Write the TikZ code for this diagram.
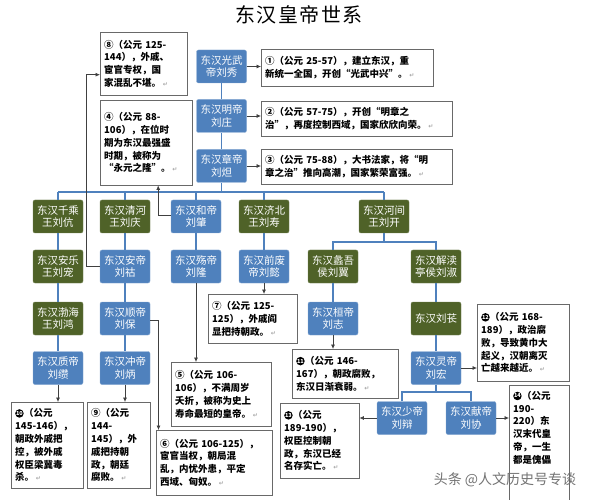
\documentclass[tikz,border=0pt]{standalone}
\usepackage{fontspec}
\setmainfont{Noto Sans CJK SC}
\newfontfamily\dejavu{DejaVu Sans}
\usetikzlibrary{positioning, arrows.meta}
\definecolor{empblue}{RGB}{79,129,189}
\definecolor{princegreen}{RGB}{79,98,40}
\definecolor{notegray}{RGB}{105,105,105}
\newcommand\pmark{\,{\dejavu\fontsize{6}{6}\selectfont\textcolor{black!35}{↵}}}
% black circled numbers 10--14, drawn as a disc with the number in white
\newcommand\negnum[1]{\tikz[baseline=-3.4pt, x=1pt, y=1pt]\node[circle, anchor=center, fill=black, draw=none,
    text=white, inner sep=0pt, minimum size=8.5pt, font=\fontsize{5.5}{6}\selectfont\bfseries] (c) at (0,0) {#1};\hspace{0.5pt}}

\tikzset{
  emp/.style={fill=empblue, draw=empblue!70!white, rounded corners=2pt, text=white,
              minimum width=50pt, minimum height=33pt, inner sep=1pt, align=center,
              font=\fontsize{10.5}{12.5}\selectfont},
  prince/.style={emp, fill=princegreen, draw=princegreen!80!white},
  note/.style={draw=notegray, fill=white, anchor=north west, align=left, inner sep=4pt,
               font=\bfseries\fontsize{9.5}{12.8}\selectfont},
  tree/.style={draw=empblue, line width=1.5pt},
  link/.style={draw=black!75, line width=0.7pt, -{Latex[length=4.5pt,width=4pt]}},
}

\begin{document}
\begin{tikzpicture}[x=1pt, y=-1pt]
    \clip (0,0) rectangle (595,500);

    % title
    \node[font=\fontsize{20}{24}\selectfont] (title) at (299,15) {东\hspace{1.5pt}汉\hspace{1.5pt}皇\hspace{1.5pt}帝\hspace{1.5pt}世\hspace{1.5pt}系};

    % emperors and princes
    \node[emp] (guangwu) at (221.5,66.5) {东汉光武\\帝刘秀};
    \node[emp] (ming) at (221.5,116) {东汉明帝\\刘庄};
    \node[emp] (zhang) at (221.5,166) {东汉章帝\\刘炟};

    \node[prince] (qiancheng) at (58,216.5) {东汉千乘\\王刘伉};
    \node[prince] (qinghe) at (125,216.5) {东汉清河\\王刘庆};
    \node[emp] (he) at (196,216.5) {东汉和帝\\刘肇};
    \node[prince] (jibei) at (264,216.5) {东汉济北\\王刘寿};
    \node[prince] (hejian) at (384,216.5) {东汉河间\\王刘开};

    \node[prince] (anle) at (58,266.5) {东汉安乐\\王刘宠};
    \node[emp] (an) at (125,266.5) {东汉安帝\\刘祜};
    \node[emp] (shang) at (196,266.5) {东汉殇帝\\刘隆};
    \node[emp] (qianfei) at (264,266.5) {东汉前废\\帝刘懿};
    \node[prince] (liyu) at (333,266.5) {东汉蠡吾\\侯刘翼};
    \node[prince] (jiedu) at (436,266.5) {东汉解渎\\亭侯刘淑};

    \node[prince] (bohai) at (58,318.5) {东汉渤海\\王刘鸿};
    \node[emp] (shun) at (125,318.5) {东汉顺帝\\刘保};
    \node[emp] (huan) at (333,318.5) {东汉桓帝\\刘志};
    \node[prince] (liuchang) at (436,318.5) {东汉刘苌};

    \node[emp] (zhi) at (58,368) {东汉质帝\\刘缵};
    \node[emp] (chong) at (125,368) {东汉冲帝\\刘炳};
    \node[emp] (ling) at (436,368) {东汉灵帝\\刘宏};

    \node[emp] (shao) at (402,418) {东汉少帝\\刘辩};
    \node[emp] (xian) at (471,418) {东汉献帝\\刘协};

    % notes
    \node[note, text width=79pt, minimum height=63pt] (n8) at (100,32) {⑧（公元 125-\\144），外戚、\\宦官专权，国\\家混乱不堪。\pmark};
    \node[note, text width=164pt, minimum height=37pt] (n1) at (261,49) {①（公元 25-57），建立东汉，重\\新统一全国，开创“光武中兴”。\pmark};
    \node[note, text width=183pt, minimum height=35pt] (n2) at (261,101) {②（公元 57-75），开创“明章之\\治”，再度控制西域，国家欣欣向荣。\pmark};
    \node[note, text width=183pt, minimum height=35pt] (n3) at (261,149) {③（公元 75-88），大书法家，将“明\\章之治”推向高潮，国家繁荣富强。\pmark};
    \node[note, text width=84pt, minimum height=85pt] (n4) at (100,100) {④（公元 88-\\106），在位时\\期为东汉最强盛\\时期，被称为\\“永元之隆”。\pmark};
    \node[note, text width=81pt, minimum height=49pt] (n7) at (208,294) {⑦（公元 125-\\125），外戚阎\\显把持朝政。\pmark};
    \node[note, text width=92pt, minimum height=64pt] (n5) at (171,362) {⑤（公元 106-\\106），不满周岁\\夭折，被称为史上\\寿命最短的皇帝。\pmark};
    \node[note, text width=108pt, minimum height=65pt] (n6) at (156,430) {⑥（公元 106-125），\\宦官当权，朝局混\\乱，内忧外患，平定\\西域、匈奴。\pmark};
    \node[note, text width=64pt, minimum height=86pt] (n10) at (11,402) {\negnum{10}（公元\\145-146），\\朝政外戚把\\控，被外戚\\权臣梁冀毒\\杀。\pmark};
    \node[note, text width=55pt, minimum height=86pt] (n9) at (87,402) {⑨（公元\\144-\\145），外\\戚把持朝\\政，朝廷\\腐败。\pmark};
    \node[note, text width=98pt, minimum height=49pt] (n11) at (292,349) {\negnum{11}（公元 146-\\167），朝政腐败，\\东汉日渐衰弱。\pmark};
    \node[note, text width=84pt, minimum height=77pt] (n12) at (477,304) {\negnum{12}（公元 168-\\189），政治腐\\败，导致黄巾大\\起义，汉朝离灭\\亡越来越近。\pmark};
    \node[note, text width=71pt, minimum height=75pt] (n13) at (280,403) {\negnum{13}（公元\\189-190），\\权臣控制朝\\政，东汉已经\\名存实亡。\pmark};
    \node[note, text width=52pt, minimum height=130pt] (n14) at (509,385) {\parbox[t][118pt][t]{52pt}{\negnum{14}（公元\\190-\\220）东\\汉末代皇\\帝，一生\\都是傀儡}};

    % family tree lines
    \coordinate (bus) at (0,192);
    \coordinate (fork1) at (0,242);
    \coordinate (fork2) at (0,392);
    \draw[tree] (guangwu.south) -- (ming.north);
    \draw[tree] (ming.south) -- (zhang.north);
    \draw[tree] (zhang.south) -- (zhang.south |- bus);
    \draw[tree] (qiancheng.north |- bus) -- (hejian.north |- bus);
    \foreach \k in {qiancheng, qinghe, he, jibei, hejian}
        \draw[tree] (\k.north) -- (\k.north |- bus);
    \foreach \a/\b in {qiancheng/anle, anle/bohai, bohai/zhi, qinghe/an, an/shun, shun/chong,
                       he/shang, jibei/qianfei, liyu/huan, jiedu/liuchang, liuchang/ling}
        \draw[tree] (\a.south) -- (\b.north);
    \draw[tree] (hejian.south) -- (hejian.south |- fork1);
    \draw[tree] (liyu.north) -- (liyu.north |- fork1) -- (jiedu.north |- fork1) -- (jiedu.north);
    \draw[tree] (ling.south) -- (ling.south |- fork2);
    \draw[tree] (shao.north) -- (shao.north |- fork2) -- (xian.north |- fork2) -- (xian.north);

    % arrows to the notes
    \draw[link] (guangwu.east) -- (guangwu.east -| n1.west);
    \draw[link] (ming.east) -- (ming.east -| n2.west);
    \draw[link] (zhang.east) -- (zhang.east -| n3.west);
    \draw[link] (an.west) -- ++(-13,0) |- ([yshift=-11pt]n8.west);
    \draw[link] ([yshift=1.5pt]he.west) -| ([xshift=12pt]n4.south);
    \draw[link] ([yshift=-1.5pt]shun.east) -| ([xshift=2.5pt]n6.north west);
    \draw[link] (shang.south) -- (shang.south |- n5.north);
    \draw[link] (qianfei.south) -- (qianfei.south |- n7.north);
    \draw[link] (zhi.south) -- (zhi.south |- n10.north);
    \draw[link] (chong.south) -- (chong.south |- n9.north);
    \draw[link] (huan.south) -- (huan.south |- n11.north);
    \draw[link] (ling.east) -- (ling.east -| n12.west);
    \draw[link] (shao.west) -- (shao.west -| n13.east);
    \draw[link] (xian.east) -- (xian.east -| n14.west);

    % watermark
    \node[text=black!55, font=\fontsize{14}{16}\selectfont] (mark) at (505,480) {头条 @人文历史号专谈};
\end{tikzpicture}
\end{document}
